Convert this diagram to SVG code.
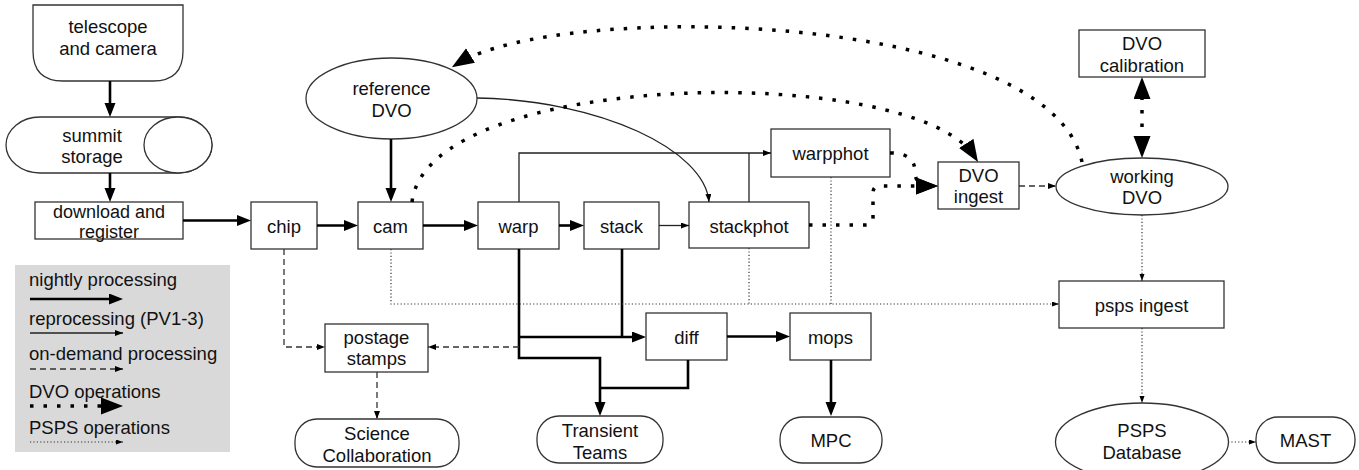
<svg xmlns="http://www.w3.org/2000/svg" width="1359" height="470" viewBox="0 0 1359 470">
<style>
.box{fill:#fff;stroke:#333;stroke-width:1.3}
.t{font-family:"Liberation Sans",Arial,sans-serif;font-size:18.5px;fill:#111;text-anchor:middle}
.lt{font-family:"Liberation Sans",Arial,sans-serif;font-size:18.5px;fill:#111}
.n{fill:none;stroke:#000;stroke-width:2.6}
.r{fill:none;stroke:#222;stroke-width:1.3}
.d{fill:none;stroke:#333;stroke-width:1.3;stroke-dasharray:6 4}
.v{fill:none;stroke:#000;stroke-width:3.5;stroke-dasharray:3.5 10}
.p{fill:none;stroke:#333;stroke-width:1.2;stroke-dasharray:1.2 2.2}
</style>
<defs>
<marker id="mN" markerUnits="userSpaceOnUse" markerWidth="15" markerHeight="12" refX="10" refY="5.5" orient="auto"><path d="M0,0 L14,5.5 L0,11 Z" fill="#000"/></marker>
<marker id="mR" markerUnits="userSpaceOnUse" markerWidth="9" markerHeight="7" refX="8" refY="3" orient="auto"><path d="M0,0 L8,3 L0,6 Z" fill="#000"/></marker>
<marker id="mD" markerUnits="userSpaceOnUse" markerWidth="9" markerHeight="7" refX="8" refY="3" orient="auto"><path d="M0,0 L8,3 L0,6 Z" fill="#000"/></marker>
<marker id="mV" markerUnits="userSpaceOnUse" markerWidth="24" markerHeight="18" refX="16" refY="8.5" orient="auto-start-reverse"><path d="M0,0 L22,8.5 L0,17 Z" fill="#000"/></marker>
<marker id="mP" markerUnits="userSpaceOnUse" markerWidth="8" markerHeight="6" refX="7" refY="2.5" orient="auto"><path d="M0,0 L7,2.5 L0,5 Z" fill="#000"/></marker>
</defs>

<g id="legend">
<rect x="15" y="265" width="215" height="187" fill="#d9d9d9"/>
<text class="lt" x="29" y="286">nightly processing</text>
<path class="n" d="M30,299 H119" marker-end="url(#mN)"/>
<text class="lt" x="29" y="325">reprocessing (PV1-3)</text>
<path class="r" d="M30,333 H123" marker-end="url(#mR)"/>
<text class="lt" x="29" y="360">on-demand processing</text>
<path class="d" d="M30,369 H123" marker-end="url(#mD)"/>
<text class="lt" x="29" y="398">DVO operations</text>
<path class="v" d="M30,406 H117" marker-end="url(#mV)"/>
<text class="lt" x="29" y="434">PSPS operations</text>
<path class="p" d="M30,442 H123" marker-end="url(#mP)"/>
</g>

<g id="telescope">
<path class="box" d="M33,5 H183 V51 Q183,81 153,81 H63 Q33,81 33,51 Z"/>
<text class="t" x="108" y="33">telescope</text>
<text class="t" x="108" y="55">and camera</text>
</g>
<g id="summit">
<path class="box" d="M40,117 H178 A34,28 0 0 1 178,173 H40 A34,28 0 0 1 40,117 Z"/>
<ellipse class="box" cx="178" cy="145" rx="34" ry="28"/>
<text class="t" x="92" y="142">summit</text>
<text class="t" x="92" y="163">storage</text>
</g>
<g id="download">
<rect class="box" x="35" y="202" width="148" height="37"/>
<text class="t" x="109" y="218" style="font-size:18px">download and</text>
<text class="t" x="109" y="238" style="font-size:18px">register</text>
</g>
<g id="chip">
<rect class="box" x="251" y="202" width="66" height="47"/>
<text class="t" x="284" y="232.5">chip</text>
</g>
<g id="cam">
<rect class="box" x="358" y="202" width="65" height="47"/>
<text class="t" x="390.5" y="232.5">cam</text>
</g>
<g id="warp">
<rect class="box" x="478" y="202" width="81" height="47"/>
<text class="t" x="518.5" y="232.5">warp</text>
</g>
<g id="stack">
<rect class="box" x="584" y="202" width="75" height="47"/>
<text class="t" x="621.5" y="232.5">stack</text>
</g>
<g id="stackphot">
<rect class="box" x="689" y="202" width="120" height="46"/>
<text class="t" x="749" y="232.5">stackphot</text>
</g>
<g id="warpphot">
<rect class="box" x="771" y="129" width="119" height="48"/>
<text class="t" x="830.5" y="160">warpphot</text>
</g>
<g id="dvoingest">
<rect class="box" x="938" y="162" width="81" height="47"/>
<text class="t" x="978.5" y="181.5">DVO</text>
<text class="t" x="978.5" y="203">ingest</text>
</g>
<g id="dvocal">
<rect class="box" x="1079" y="30" width="126" height="47"/>
<text class="t" x="1142" y="50">DVO</text>
<text class="t" x="1142" y="72">calibration</text>
</g>
<g id="workingdvo">
<ellipse class="box" cx="1142" cy="186.5" rx="86" ry="28.5"/>
<text class="t" x="1142" y="182.5">working</text>
<text class="t" x="1142" y="203.5">DVO</text>
</g>
<g id="refdvo">
<ellipse class="box" cx="391.5" cy="98.5" rx="85.5" ry="40.5"/>
<text class="t" x="391.5" y="95">reference</text>
<text class="t" x="391.5" y="117">DVO</text>
</g>
<g id="pspsingest">
<rect class="box" x="1059" y="281" width="165" height="47"/>
<text class="t" x="1141.5" y="311.5">psps ingest</text>
</g>
<g id="postage">
<rect class="box" x="325" y="324" width="103" height="48"/>
<text class="t" x="376.5" y="343.5">postage</text>
<text class="t" x="376.5" y="365">stamps</text>
</g>
<g id="diff">
<rect class="box" x="646" y="313" width="81" height="47"/>
<text class="t" x="686.5" y="343.5">diff</text>
</g>
<g id="mops">
<rect class="box" x="790" y="313" width="81" height="47"/>
<text class="t" x="830.5" y="343.5">mops</text>
</g>
<g id="science">
<rect class="box" x="295" y="419" width="164" height="48" rx="22" ry="22"/>
<text class="t" x="377" y="440">Science</text>
<text class="t" x="377" y="461.5">Collaboration</text>
</g>
<g id="transient">
<rect class="box" x="537" y="416" width="126" height="47" rx="22" ry="22"/>
<text class="t" x="600" y="437">Transient</text>
<text class="t" x="600" y="458.5">Teams</text>
</g>
<g id="mpc">
<rect class="box" x="780" y="417" width="102" height="46" rx="22" ry="22"/>
<text class="t" x="831" y="447">MPC</text>
</g>
<g id="pspsdb">
<ellipse class="box" cx="1142" cy="442" rx="86.5" ry="39"/>
<text class="t" x="1142" y="437">PSPS</text>
<text class="t" x="1142" y="458.5">Database</text>
</g>
<g id="mast">
<rect class="box" x="1256" y="417" width="99" height="46" rx="22" ry="22"/>
<text class="t" x="1305.5" y="447">MAST</text>
</g>

<g id="connectors">
<path class="n" d="M110,81 V113" marker-end="url(#mN)"/>
<path class="n" d="M110,173 V198" marker-end="url(#mN)"/>
<path class="n" d="M183,220.5 H247" marker-end="url(#mN)"/>
<path class="n" d="M317,225.5 H354" marker-end="url(#mN)"/>
<path class="n" d="M391,139 V198" marker-end="url(#mN)"/>
<path class="n" d="M423,225.5 H474" marker-end="url(#mN)"/>
<path class="n" d="M559,225.5 H580" marker-end="url(#mN)"/>
<path class="n" d="M519,249 V358 H600 V412" marker-end="url(#mN)"/>
<path class="n" d="M519,337 H642" marker-end="url(#mN)"/>
<path class="n" d="M622,249 V337"/>
<path class="n" d="M688,360 V388 H600"/>
<path class="n" d="M727,336.5 H786" marker-end="url(#mN)"/>
<path class="n" d="M831,360 V412" marker-end="url(#mN)"/>
<path class="r" d="M659,225.5 H689" marker-end="url(#mR)"/>
<path class="r" d="M519,202 V153 H771" marker-end="url(#mR)"/>
<path class="r" d="M749,202 V153"/>
<path class="r" d="M477,98 C600,100 705,150 709,202" marker-end="url(#mR)"/>
<path class="d" d="M284,249 V347 H325" marker-end="url(#mD)"/>
<path class="d" d="M519,347 H428" marker-end="url(#mD)"/>
<path class="d" d="M377,372 V419" marker-end="url(#mD)"/>
<path class="d" d="M1019,186 H1056" marker-end="url(#mD)"/>
<path class="v" d="M1082,162 C1050,10 560,0 457,64" marker-end="url(#mV)"/>
<path class="v" d="M412,202 C428,68 915,62 974.8,156.9" marker-end="url(#mV)"/>
<path class="v" d="M890,153 Q915,153 915,172 Q915,186 932,186" marker-end="url(#mV)"/>
<path class="v" d="M809,225 H866 Q873,225 873,218 V193 Q873,186 880,186 H932" marker-end="url(#mV)"/>
<path class="v" d="M1142,83 V152" marker-start="url(#mV)" marker-end="url(#mV)"/>
<path class="p" d="M391,249 V304 H1059" marker-end="url(#mP)"/>
<path class="p" d="M749,248 V304"/>
<path class="p" d="M831,177 V304"/>
<path class="p" d="M1142,215 V281" marker-end="url(#mP)"/>
<path class="p" d="M1142,328 V403" marker-end="url(#mP)"/>
<path class="p" d="M1228,442 H1256" marker-end="url(#mP)"/>
</g>
</svg>
